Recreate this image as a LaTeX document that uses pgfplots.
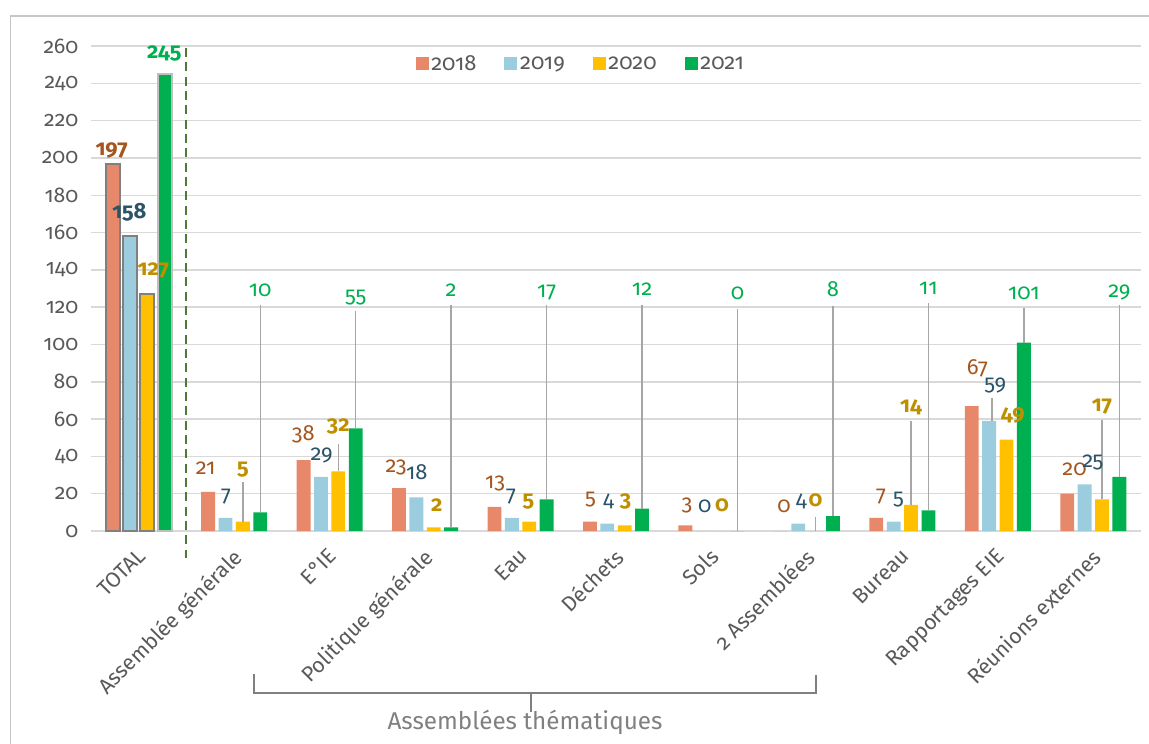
\documentclass[border=0pt]{standalone}
\usepackage{pgfplots}
\pgfplotsset{compat=1.18}
\usepackage{pgfplotstable}
\usepackage{fontspec}
\setmainfont{Fira Sans}[Numbers=OldStyle]
\definecolor{c18}{HTML}{E8886A}
\definecolor{c19}{HTML}{9CCDDE}
\definecolor{c20}{HTML}{FFC000}
\definecolor{c21}{HTML}{00B050}
\definecolor{l18}{HTML}{A5561E}
\definecolor{l19}{HTML}{2B5468}
\definecolor{l20}{HTML}{BF8F00}
\definecolor{l21}{HTML}{00B050}
\definecolor{txt}{HTML}{595959}
\definecolor{gridc}{HTML}{D9D9D9}
\definecolor{lead}{HTML}{A6A6A6}
\definecolor{sep}{HTML}{4E7A36}

\pgfplotstableread{
x y18 y19 y20 y21
0 197 158 127 245
1 21 7 5 10
2 38 29 32 55
3 23 18 2 2
4 13 7 5 17
5 5 4 3 12
6 3 0 0 0
7 0 4 0 8
8 7 5 14 11
9 67 59 49 101
10 20 25 17 29
}\data
\pgfplotstableread{
x y18 y19 y20 y21
0 197 158 127 245
}\total

\newcommand\lbl{\fontsize{16.5}{19}\selectfont}
\begin{document}
\begin{tikzpicture}
\begin{scope}[x=0.75pt,y=-0.75pt]
\path[use as bounding box] (0,0) rectangle (1149,743);
\draw[gray!45, line width=1.1pt] (10.5,760) -- (10.5,16) -- (1170,16);
\end{scope}
\begin{axis}[
  at={(68.25pt,-398.25pt)}, anchor=south west,
  scale only axis, width=787.5pt, height=363.75pt,
  xmin=-0.5, xmax=10.5, ymin=0, ymax=260,
  clip=false,
  axis line style={draw=none},
  tick style={draw=none},
  ytick={0,20,...,260},
  ymajorgrids, grid style={gridc, line width=1.1pt},
  xtick={0,...,10},
  xticklabels={TOTAL, Assemblée générale, E°IE, Politique générale, Eau, Déchets, Sols, 2 Assemblées, Bureau, Rapportages EIE, Réunions externes},
  /pgf/number format/assume math mode=true,
  tick label style={font=\fontsize{16}{19}\selectfont, text=txt},
  yticklabel style={xshift=-6pt},
  xticklabel style={xshift=-2pt, yshift=-7pt, rotate=45, anchor=north east},
  legend style={at={(0.4667,0.963)}, anchor=center, draw=none, fill=none,
    font=\fontsize{16.5}{19}\selectfont, text=txt,
    /tikz/every even column/.append style={column sep=19pt}},
  legend columns=4,
  legend image code/.code={\fill[#1] (0pt,-4.875pt) rectangle (9.75pt,4.875pt);},
  bstyle/.style={ybar, bar width=0.145, draw=none},
]
\addplot[bstyle, bar shift=-0.273, fill=c18] table[x=x,y=y18]{\data};
\addplot[bstyle, bar shift=-0.091, fill=c19] table[x=x,y=y19]{\data};
\addplot[bstyle, bar shift=0.091, fill=c20] table[x=x,y=y20]{\data};
\addplot[bstyle, bar shift=0.273, fill=c21] table[x=x,y=y21]{\data};
\legend{2018,2019,2020,2021}
% outlined TOTAL bars
\addplot[forget plot, ybar, bar width=0.145, bar shift=-0.273, fill=c18, draw=gray, line width=1.5pt] table[x=x,y=y18]{\total};
\addplot[forget plot, ybar, bar width=0.145, bar shift=-0.091, fill=c19, draw=gray, line width=1.5pt] table[x=x,y=y19]{\total};
\addplot[forget plot, ybar, bar width=0.145, bar shift=0.091, fill=c20, draw=gray, line width=1.5pt] table[x=x,y=y20]{\total};
\addplot[forget plot, ybar, bar width=0.145, bar shift=0.273, fill=c21, draw=gray!50, line width=1.5pt] table[x=x,y=y21]{\total};

% separator
\draw[sep, line width=1.5pt, dash pattern=on 6.75pt off 4pt] (axis cs:0.5,259) -- (axis cs:0.5,-14.5);

% leader lines
\begin{scope}[lead, line width=1.1pt]
\draw (axis cs:1.273,120.9) -- (axis cs:1.273,10);
\draw (axis cs:2.273,118.2) -- (axis cs:2.273,55);
\draw (axis cs:3.273,120.9) -- (axis cs:3.273,2);
\draw (axis cs:4.273,120.9) -- (axis cs:4.273,17);
\draw (axis cs:5.273,120.9) -- (axis cs:5.273,12);
\draw (axis cs:6.273,118.8) -- (axis cs:6.273,0);
\draw (axis cs:7.273,120.4) -- (axis cs:7.273,8);
\draw (axis cs:8.273,122) -- (axis cs:8.273,11);
\draw (axis cs:9.273,119.3) -- (axis cs:9.273,101);
\draw (axis cs:10.273,120.9) -- (axis cs:10.273,29);
\draw (axis cs:1.091,26.4) -- (axis cs:1.091,5);
\draw (axis cs:2.091,46.9) -- (axis cs:2.091,32);
\draw (axis cs:7.091,7.7) -- (axis cs:7.091,0);
\draw (axis cs:8.091,59) -- (axis cs:8.091,14);
\draw (axis cs:10.091,59.4) -- (axis cs:10.091,17);
\draw (axis cs:8.94,71.2) -- (axis cs:8.94,59);
\end{scope}

% value labels
\begin{scope}[every node/.style={font=\lbl, inner sep=0pt}]
% 2018
\node[text=l18, font=\lbl\bfseries] at (axis cs:-0.283,203.9) {197};
\node[text=l18] at (axis cs:0.702,33.5) {21};
\node[text=l18] at (axis cs:1.724,51.9) {38};
\node[text=l18] at (axis cs:2.696,33.9) {23};
\node[text=l18] at (axis cs:3.733,25.5) {13};
\node[text=l18] at (axis cs:4.733,16.6) {5};
\node[text=l18] at (axis cs:5.744,13.9) {3};
\node[text=l18] at (axis cs:6.760,13.0) {0};
\node[text=l18] at (axis cs:7.776,18.4) {7};
\node[text=l18] at (axis cs:8.786,87.1) {67};
\node[text=l18] at (axis cs:9.804,33.0) {20};
% 2019
\node[text=l19, font=\lbl\bfseries] at (axis cs:-0.098,170.8) {158};
\node[text=l19] at (axis cs:0.915,18.4) {7};
\node[text=l19] at (axis cs:1.917,40.7) {29};
\node[text=l19] at (axis cs:2.913,31.7) {18};
\node[text=l19] at (axis cs:3.900,18.4) {7};
\node[text=l19] at (axis cs:4.921,15.7) {4};
\node[text=l19] at (axis cs:5.931,13.0) {0};
\node[text=l19] at (axis cs:6.941,15.7) {4};
\node[text=l19] at (axis cs:7.959,16.6) {5};
\node[text=l19] at (axis cs:8.973,78.1) {59};
\node[text=l19] at (axis cs:9.996,36.5) {25};
% 2020
\begin{scope}[every node/.append style={text=l20, font=\lbl\bfseries}]
\node at (axis cs:0.153,139.6) {127};
\node at (axis cs:1.091,33.0) {5};
\node at (axis cs:2.091,55.8) {32};
\node at (axis cs:3.122,13.9) {2};
\node at (axis cs:4.082,15.7) {5};
\node at (axis cs:5.100,15.7) {3};
\node at (axis cs:6.111,13.9) {0};
\node at (axis cs:7.091,16.6) {0};
\node at (axis cs:8.091,66.5) {14};
\node at (axis cs:9.157,61.7) {49};
\node at (axis cs:10.091,66.9) {17};
\end{scope}
% 2021
\node[text=l21, font=\lbl\bfseries] at (axis cs:0.268,255.9) {245};
\node[text=l21] at (axis cs:1.273,128.9) {10};
\node[text=l21] at (axis cs:2.273,125.4) {55};
\node[text=l21] at (axis cs:3.273,128.9) {2};
\node[text=l21] at (axis cs:4.273,128.0) {17};
\node[text=l21] at (axis cs:5.273,129.9) {12};
\node[text=l21] at (axis cs:6.273,127.2) {0};
\node[text=l21] at (axis cs:7.273,129.5) {8};
\node[text=l21] at (axis cs:8.273,129.9) {11};
\node[text=l21] at (axis cs:9.273,127.5) {101};
\node[text=l21] at (axis cs:10.273,128.0) {29};
\end{scope}
\end{axis}
\begin{scope}[x=0.75pt,y=-0.75pt]
\draw[gray, line width=1.4pt] (253.8,674) -- (253.8,693) -- (816,693) -- (816,675);
\draw[gray, line width=1.4pt] (531,693) -- (531,712);
\node[text=gray, font=\fontsize{18.2}{22}\selectfont] at (525,722) {Assemblées thématiques};
\end{scope}
\end{tikzpicture}
\end{document}
